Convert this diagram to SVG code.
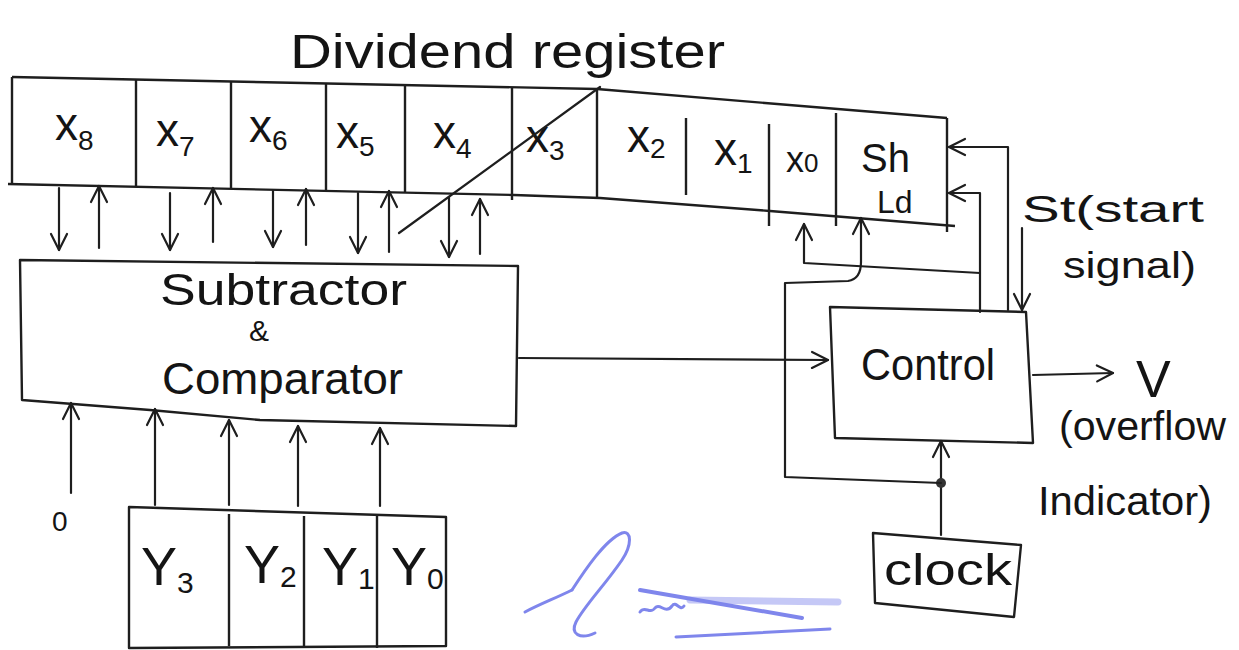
<svg xmlns="http://www.w3.org/2000/svg" width="1239" height="650" viewBox="0 0 1239 650">
<defs>
<marker id="arr" markerUnits="userSpaceOnUse" markerWidth="22" markerHeight="22" viewBox="0 0 22 22" refX="20" refY="11" orient="auto">
<path d="M4,3 L20,11 L4,19" fill="none" stroke="#1e1e1e" stroke-width="2.2" stroke-linecap="round" stroke-linejoin="round"/>
</marker>
</defs>
<style>
.ln{fill:none;stroke:#1e1e1e;stroke-width:2.2;stroke-linecap:round;stroke-linejoin:round}
.box{fill:none;stroke:#1e1e1e;stroke-width:2.4;stroke-linejoin:round}
.ar{fill:none;stroke:#1e1e1e;stroke-width:2.2;stroke-linecap:round;stroke-linejoin:round;marker-end:url(#arr)}
text{font-family:"Liberation Sans",Arial,sans-serif;fill:#141414}
.lb{font-size:46px}
.sb{font-size:28px}
.sig{fill:none;stroke:#7f86ec;stroke-linecap:round;stroke-linejoin:round}
</style>
<rect width="1239" height="650" fill="#ffffff"/>

<g id="title">
<text x="290" y="68" font-size="48" textLength="435" lengthAdjust="spacingAndGlyphs">Dividend register</text>
</g>

<g id="dividend-register">
<polyline class="box" points="12,77 597,89 947,118"/>
<polyline class="box" points="8,184 514,195 600,198 770,211 955,226"/>
<line class="box" x1="12" y1="77" x2="12" y2="184"/>
<line class="box" x1="947" y1="118" x2="947" y2="232"/>
<line class="box" x1="136" y1="80" x2="136" y2="187"/>
<line class="box" x1="231" y1="82" x2="231" y2="189"/>
<line class="box" x1="326" y1="84" x2="326" y2="191"/>
<line class="box" x1="405" y1="86" x2="405" y2="193"/>
<line class="box" x1="512" y1="88" x2="512" y2="200"/>
<line class="box" x1="597" y1="89" x2="597" y2="198"/>
<line class="box" x1="686" y1="118" x2="686" y2="195"/>
<line class="box" x1="769" y1="124" x2="769" y2="226"/>
<line class="box" x1="836" y1="113" x2="836" y2="226"/>
<text class="lb" x="55" y="140">x<tspan class="sb" dy="10">8</tspan></text>
<text class="lb" x="156" y="146">x<tspan class="sb" dy="10">7</tspan></text>
<text class="lb" x="249" y="142">x<tspan class="sb" dy="8">6</tspan></text>
<text class="lb" x="336" y="148">x<tspan class="sb" dy="8">5</tspan></text>
<text class="lb" x="433" y="148">x<tspan class="sb" dy="10">4</tspan></text>
<text class="lb" x="526" y="152">x<tspan class="sb" dy="8">3</tspan></text>
<text class="lb" x="627" y="152">x<tspan class="sb" dy="6">2</tspan></text>
<text class="lb" x="714" y="165">x<tspan class="sb" dy="8">1</tspan></text>
<text x="786" y="172" font-size="36">x<tspan font-size="26">0</tspan></text>
<text x="861" y="172" font-size="40">Sh</text>
<text x="877" y="213" font-size="32">Ld</text>
<line class="ln" x1="600" y1="87" x2="399" y2="233" stroke-width="1.6"/>
</g>

<g id="subtractor">
<polygon class="box" points="20,260 518,266 516,426 260,420 150,410 22,400"/>
<text x="160" y="305" font-size="44" textLength="247" lengthAdjust="spacingAndGlyphs">Subtractor</text>
<text x="249" y="341" font-size="30">&amp;</text>
<text x="162" y="394" font-size="44" textLength="241" lengthAdjust="spacingAndGlyphs">Comparator</text>
</g>

<g id="divisor-register">
<polygon class="box" points="129,507 446,517 446,646 129,648"/>
<line class="box" x1="229" y1="514" x2="229" y2="646"/>
<line class="box" x1="304" y1="516" x2="304" y2="646"/>
<line class="box" x1="377" y1="516" x2="377" y2="648"/>
<text x="141" y="585" font-size="54">Y<tspan font-size="30" dy="8">3</tspan></text>
<text x="244" y="583" font-size="54">Y<tspan font-size="30" dy="4">2</tspan></text>
<text x="322" y="585" font-size="54">Y<tspan font-size="30" dy="4">1</tspan></text>
<text x="391" y="585" font-size="54">Y<tspan font-size="30" dy="4">0</tspan></text>
</g>

<g id="zero-input">
<text x="52" y="531" font-size="28">0</text>
</g>

<g id="control">
<polygon class="box" points="830,307 1026,312 1033,443 835,438"/>
<text x="861" y="380" font-size="44" textLength="134" lengthAdjust="spacingAndGlyphs">Control</text>
</g>

<g id="clock">
<polygon class="box" points="873,533 1021,545 1014,617 875,603"/>
<text x="884" y="585" font-size="44" textLength="128" lengthAdjust="spacingAndGlyphs">clock</text>
</g>

<g id="labels">
<text x="1136" y="397" font-size="52">V</text>
<text x="1059" y="440" font-size="40" textLength="167" lengthAdjust="spacingAndGlyphs">(overflow</text>
<text x="1038" y="515" font-size="40" textLength="174" lengthAdjust="spacingAndGlyphs">Indicator)</text>
<text x="1022" y="222" font-size="36" textLength="182" lengthAdjust="spacingAndGlyphs">St(start</text>
<text x="1063" y="278" font-size="36" textLength="133" lengthAdjust="spacingAndGlyphs">signal)</text>
</g>

<g id="connectors">
<line class="ar" x1="59" y1="188" x2="59" y2="250"/>
<line class="ar" x1="99" y1="248" x2="99" y2="186"/>
<line class="ar" x1="170" y1="193" x2="170" y2="250"/>
<line class="ar" x1="213" y1="242" x2="213" y2="188"/>
<line class="ar" x1="273" y1="191" x2="273" y2="247"/>
<line class="ar" x1="306" y1="245" x2="306" y2="189"/>
<line class="ar" x1="358" y1="193" x2="358" y2="253"/>
<line class="ar" x1="389" y1="252" x2="389" y2="191"/>
<line class="ar" x1="449" y1="197" x2="449" y2="257"/>
<line class="ar" x1="480" y1="254" x2="480" y2="199"/>
<line class="ar" x1="71" y1="493" x2="71" y2="403"/>
<line class="ar" x1="155" y1="505" x2="155" y2="409"/>
<line class="ar" x1="229" y1="505" x2="229" y2="420"/>
<line class="ar" x1="298" y1="506" x2="298" y2="426"/>
<line class="ar" x1="380" y1="506" x2="380" y2="428"/>
<line class="ar" x1="519" y1="358" x2="828" y2="360"/>
<line class="ar" x1="1033" y1="375" x2="1113" y2="373"/>
<line class="ar" x1="941" y1="535" x2="941" y2="441"/>
<circle cx="941" cy="483" r="5" fill="#333"/>
<path class="ar" d="M941,483 L785,477 L785,283 L848,281 Q861,279 861,262 L861,218"/>
<path class="ar" d="M980,312 L980,193 L949,193"/>
<path class="ar" d="M980,273 L804,263 L804,224"/>
<path class="ar" d="M1008,310 L1008,147 L949,147"/>
<line class="ar" x1="1022" y1="228" x2="1022" y2="310"/>
</g>

<g id="signature">
<path class="sig" stroke-width="3" d="M525,612 C540,604 556,598 572,590"/>
<path class="sig" stroke-width="3" d="M572,590 C585,570 605,540 622,533 C632,530 632,545 622,560 C605,585 585,605 576,622 C570,634 580,640 595,633"/>
<path class="sig" stroke-width="3" d="M640,612 C645,605 650,615 655,608 C660,602 665,615 672,606 C676,600 680,612 684,606"/>
<path class="sig" stroke-width="4" d="M640,590 L802,618"/>
<path class="sig" stroke-width="3" d="M676,637 L830,629"/>
<path class="sig" stroke-width="7" opacity="0.45" d="M690,600 L838,602"/>
</g>
</svg>
